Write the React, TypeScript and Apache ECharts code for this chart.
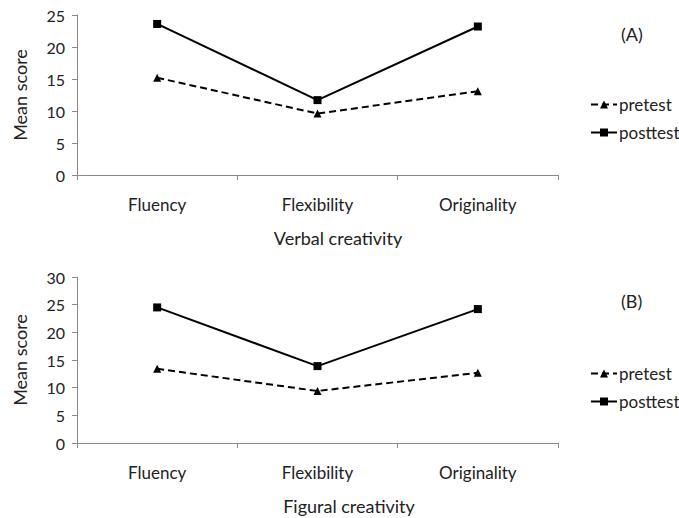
import React, { useEffect, useRef } from "react";
import * as echarts from "echarts";

const categories = ["Fluency", "Flexibility", "Originality"];
const verbalPretest = [15.2, 9.6, 13.1];
const verbalPosttest = [23.6, 11.7, 23.2];
const figuralPretest = [13.4, 9.4, 12.7];
const figuralPosttest = [24.5, 13.9, 24.2];
const seriesNames = ["pretest", "posttest"];
const panelLabels = ["(A)", "(B)"];
const axisNames = ["Verbal creativity", "Figural creativity"];
const yAxisName = "Mean score";

const FONT = "Lato, 'Open Sans', sans-serif";
const TXT = "#222";
const AXIS = "#8a8a8a";

export default function App() {
  const ref = useRef<HTMLDivElement>(null);
  useEffect(() => {
    document.body.style.margin = "0";
    const chart = echarts.init(ref.current!, null, { renderer: "svg" });
    const mkX = (gridIndex: number, name: string, padLeft: number) => ({
      type: "category",
      gridIndex,
      data: categories,
      boundaryGap: true,
      name,
      nameLocation: "middle",
      nameGap: 54,
      nameTextStyle: { fontFamily: FONT, fontSize: 18, color: TXT, padding: [0, 0, 0, padLeft] },
      axisLine: { lineStyle: { color: AXIS, width: 1 } },
      axisTick: { show: true, length: 5, lineStyle: { color: AXIS } },
      axisLabel: { fontFamily: FONT, fontSize: 17, color: TXT, margin: 21 },
      splitLine: { show: false },
    });
    const mkY = (gridIndex: number, max: number) => ({
      type: "value",
      gridIndex,
      min: 0,
      max,
      interval: 5,
      name: yAxisName,
      nameLocation: "middle",
      nameGap: 48,
      nameRotate: 90,
      nameTextStyle: { fontFamily: FONT, fontSize: 18, color: TXT },
      axisLine: { show: true, lineStyle: { color: AXIS, width: 1 } },
      axisTick: { show: true, length: 5, lineStyle: { color: AXIS } },
      axisLabel: { fontFamily: FONT, fontSize: 16, color: TXT, margin: 12 },
      splitLine: { show: false },
    });
    const mkSeries = (idx: number, pre: number[], post: number[]) => [
      {
        type: "line",
        name: seriesNames[0],
        xAxisIndex: idx,
        yAxisIndex: idx,
        data: pre,
        symbol: "triangle",
        symbolSize: 8,
        itemStyle: { color: "#000" },
        lineStyle: { color: "#000", width: 2, type: [7, 4] },
      },
      {
        type: "line",
        name: seriesNames[1],
        xAxisIndex: idx,
        yAxisIndex: idx,
        data: post,
        symbol: "rect",
        symbolSize: 8,
        itemStyle: { color: "#000" },
        lineStyle: { color: "#000", width: 2 },
      },
    ];
    const mkLegend = (top: number) => ({
      orient: "vertical",
      left: 585,
      top,
      itemWidth: 26,
      itemHeight: 10,
      itemGap: 11,
      textStyle: { fontFamily: FONT, fontSize: 17, color: TXT, padding: [0, 0, 0, -3] },
      data: seriesNames,
    });
    chart.setOption({
      animation: false,
      backgroundColor: "#fff",
      grid: [
        { left: 77, right: 121, top: 15, height: 160 },
        { left: 77, right: 121, top: 277, height: 166 },
      ],
      xAxis: [mkX(0, axisNames[0], 41), mkX(1, axisNames[1], 63)],
      yAxis: [mkY(0, 25), mkY(1, 30)],
      legend: [mkLegend(91), mkLegend(360)],
      series: [
        ...mkSeries(0, verbalPretest, verbalPosttest),
        ...mkSeries(1, figuralPretest, figuralPosttest),
      ],
      graphic: [
        {
          type: "text",
          left: 621,
          top: 25,
          style: { text: panelLabels[0], font: `18px ${FONT}`, fill: TXT },
        },
        {
          type: "text",
          left: 621,
          top: 292,
          style: { text: panelLabels[1], font: `18px ${FONT}`, fill: TXT },
        },
      ],
    });
    return () => chart.dispose();
  }, []);
  return <div ref={ref} style={{ width: 679, height: 518 }} />;
}
